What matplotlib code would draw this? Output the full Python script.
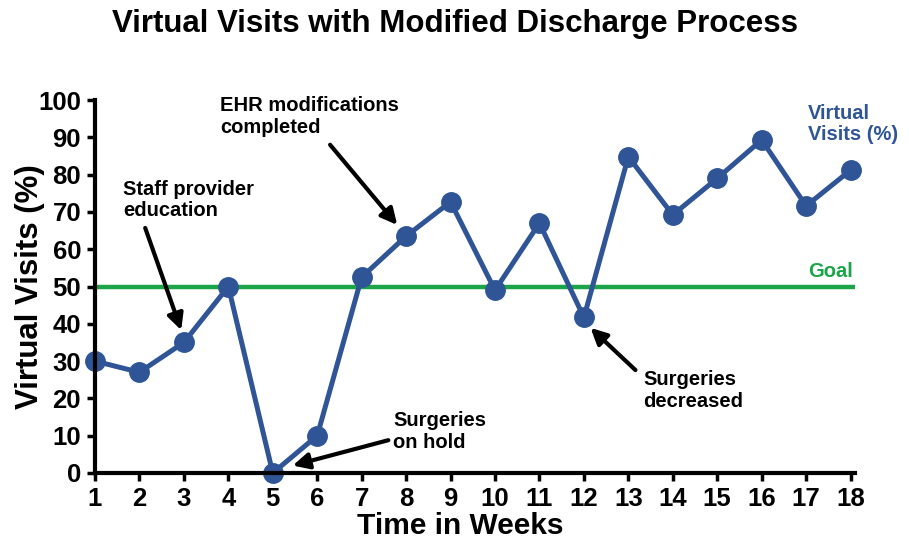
import matplotlib
matplotlib.use("Agg")
from matplotlib import pyplot as plt

weeks = list(range(1, 19))
visits = [30, 27, 35, 50, 0, 10, 52.5, 63.5, 72.7, 49, 67, 41.7, 84.8, 69.2, 79, 89.3, 71.6, 81.2]
goal = 50

blue = '#2F5597'
green = '#1BA548'
plt.rcParams['font.family'] = ['Liberation Sans', 'DejaVu Sans']
plt.rcParams['font.weight'] = 'bold'

fig = plt.figure(figsize=(9.09, 5.46), dpi=100)
ax = fig.add_axes([0.1045, 0.1337, 0.8361, 0.6831])

ax.axhline(goal, color=green, lw=3.2, zorder=2)
ax.plot(weeks, visits, color=blue, lw=3.6, marker='o', ms=14, clip_on=False, zorder=3)

ax.set_xlim(1, 18.1)
ax.set_ylim(0, 100)
ax.set_xticks(weeks)
ax.set_yticks(range(0, 101, 10))
for s in ['top', 'right']:
    ax.spines[s].set_visible(False)
for s in ['left', 'bottom']:
    ax.spines[s].set_linewidth(3)
    ax.spines[s].set_zorder(4)
ax.tick_params(width=2.5, length=6, labelsize=18.5, pad=4)
for lab in ax.get_xticklabels() + ax.get_yticklabels():
    lab.set_fontweight('bold')

ax.set_xlabel('Time in Weeks', fontsize=21.5, fontweight='bold')
ax.set_ylabel('Virtual Visits (%)', fontsize=22.5, fontweight='bold')
ax.xaxis.set_label_coords(0.48, -0.105)
ax.yaxis.set_label_coords(-0.066, 0.5)
fig.suptitle('Virtual Visits with Modified Discharge Process', fontsize=22.5, fontweight='bold', y=0.983)

fs = 14.5
arr = dict(arrowstyle='-|>', lw=3, color='black', mutation_scale=24, shrinkA=0, shrinkB=0)
ax.text(1.63, 78.5, 'Staff provider\neducation', fontsize=fs, fontweight='bold', va='top', ha='left', linespacing=1.15)
ax.annotate('', xy=(2.94, 38.3), xytext=(2.13, 65.7), arrowprops=arr)
ax.text(3.82, 101, 'EHR modifications\ncompleted', fontsize=fs, fontweight='bold', va='top', ha='left',
        linespacing=1.15, clip_on=False)
ax.annotate('', xy=(7.8, 66.5), xytext=(6.29, 88), arrowprops=arr)
ax.text(7.71, 16.5, 'Surgeries\non hold', fontsize=fs, fontweight='bold', va='top', ha='left', linespacing=1.15)
ax.annotate('', xy=(5.45, 2.0), xytext=(7.6, 8.8), arrowprops=arr)
ax.text(13.34, 27.5, 'Surgeries\ndecreased', fontsize=fs, fontweight='bold', va='top', ha='left', linespacing=1.15)
ax.annotate('', xy=(12.15, 38.9), xytext=(13.16, 27.6), arrowprops=arr)
ax.text(17.04, 99, 'Virtual\nVisits (%)', color=blue, fontsize=fs, fontweight='bold',
        va='top', ha='left', linespacing=1.15, clip_on=False)
ax.text(18.05, 51.5, 'Goal', color=green, fontsize=fs, fontweight='bold', va='bottom', ha='right')

fig.savefig('out.png', dpi=100)
